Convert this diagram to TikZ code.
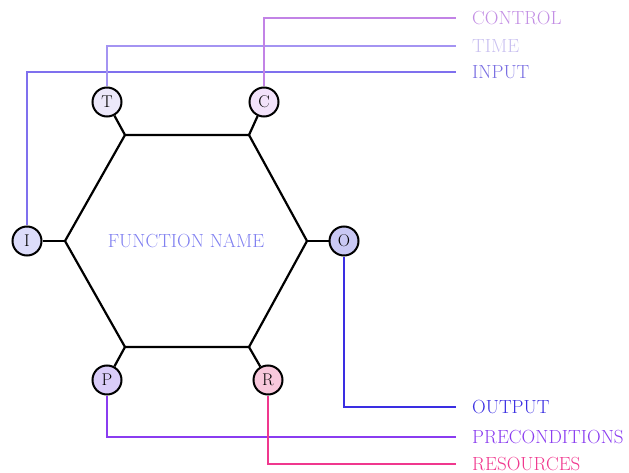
\documentclass[tikz,border=0pt]{standalone}
\usetikzlibrary{calc}
\definecolor{ctrlline}{HTML}{C283E6}
\definecolor{ctrltext}{HTML}{C38FE4}
\definecolor{timeline}{HTML}{A494F2}
\definecolor{timetext}{HTML}{C9C0F0}
\definecolor{inline}{HTML}{7F70EE}
\definecolor{intext}{HTML}{7A6FE2}
\definecolor{outcol}{HTML}{3A2EE2}
\definecolor{precol}{HTML}{8A3CF0}
\definecolor{rescol}{HTML}{F0388E}
\definecolor{fncol}{HTML}{8080F0}
\definecolor{fillT}{HTML}{ECE8FA}
\definecolor{fillC}{HTML}{F2E2FA}
\definecolor{fillI}{HTML}{DCDCFA}
\definecolor{fillO}{HTML}{C9C8F4}
\definecolor{fillP}{HTML}{D9CCF8}
\definecolor{fillR}{HTML}{F8C8DC}
\tikzset{
  port/.style={circle, draw=black, line width=2pt, minimum size=29pt, inner sep=0pt, font=\fontsize{17}{19}\selectfont},
  frame/.style={line width=2.2pt, line join=miter},
  stub/.style={line width=2.2pt},
  wire/.style={line width=2pt},
  lbl/.style={anchor=west, inner sep=0pt, font=\fontsize{19}{22}\selectfont},
}
\begin{document}
\begin{tikzpicture}[x=1pt,y=-1pt]
\useasboundingbox (0,0) rectangle (629,473);

% hexagon corners
\coordinate (htl) at (125,135);
\coordinate (htr) at (249,135);
\coordinate (hr)  at (307,241);
\coordinate (hbr) at (249,347);
\coordinate (hbl) at (125,347);
\coordinate (hl)  at (65,241);
\draw[frame] (htl) -- (htr) -- (hr) -- (hbr) -- (hbl) -- (hl) -- cycle;
\node[font=\fontsize{19}{22}\selectfont, text=fncol] (fname) at (186,241) {FUNCTION NAME};

% ports
\node[port, fill=fillT] (T) at (107,102) {T};
\node[port, fill=fillC] (C) at (264,102) {C};
\node[port, fill=fillI] (I) at (27,241) {I};
\node[port, fill=fillO] (O) at (344,241) {O};
\node[port, fill=fillP] (P) at (107,380) {P};
\node[port, fill=fillR] (R) at (268,380) {R};

\draw[stub] (T) -- (htl);
\draw[stub] (C) -- (htr);
\draw[stub] (I) -- (hl);
\draw[stub] (O) -- (hr);
\draw[stub] (P) -- (hbl);
\draw[stub] (R) -- (hbr);

% wire ends and labels
\coordinate (eC) at (456,18);
\coordinate (eT) at (456,46);
\coordinate (eI) at (456,72);
\coordinate (eO) at (456,407);
\coordinate (eP) at (456,437);
\coordinate (eR) at (456,464);

\node[lbl, text=ctrltext] (lC) at (472,18) {CONTROL};
\node[lbl, text=timetext] (lT) at (472,46) {TIME};
\node[lbl, text=intext]   (lI) at (472,72) {INPUT};
\node[lbl, text=outcol]   (lO) at (472,407) {OUTPUT};
\node[lbl, text=precol]   (lP) at (472,437) {PRECONDITIONS};
\node[lbl, text=rescol]   (lR) at (472,464) {RESOURCES};

% wires
\draw[wire, inline]   (I.north) |- (eI);
\draw[wire, timeline] (T.north) |- (eT);
\draw[wire, ctrlline] (C.north) |- (eC);
\draw[wire, outcol]   (O.south) |- (eO);
\draw[wire, precol]   (P.south) |- (eP);
\draw[wire, rescol]   (R.south) |- (eR);
\end{tikzpicture}
\end{document}
